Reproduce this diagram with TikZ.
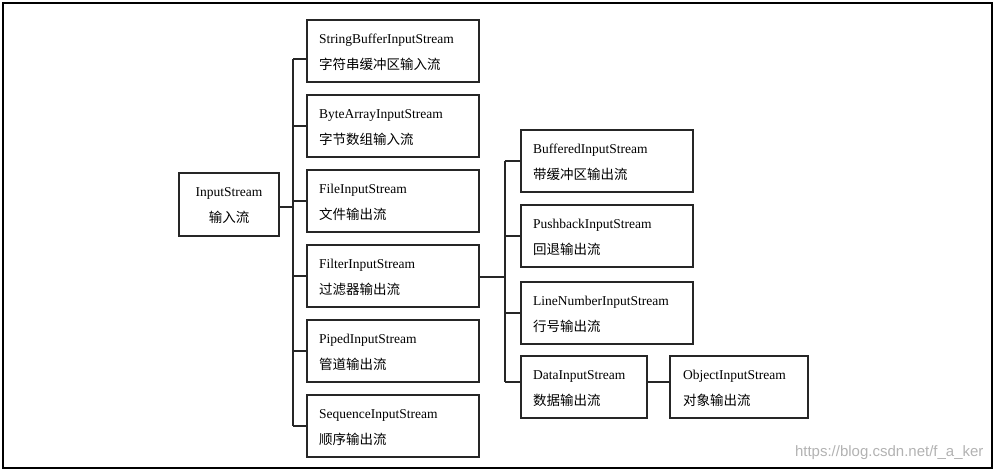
\documentclass[tikz,border=0pt]{standalone}
\usepackage{fontspec}
\setmainfont{Liberation Serif}
\newfontfamily\cjk{Noto Sans CJK SC}
\newfontfamily\wm{Liberation Sans}
\begin{document}
\begin{tikzpicture}[x=1pt,y=-1pt,
  bx/.style={draw,line width=1.2pt,black!85},
  ln/.style={draw,line width=1.1pt,black!85},
  tx/.style={anchor=west,inner sep=0pt,font=\fontsize{13.5}{15}\selectfont}]
\useasboundingbox (0,0) rectangle (996,472);
\draw[line width=1.2pt] (3,3) rectangle (992,468);
% root
\path[bx] (179,173) rectangle (279,236);
\node (root) at (229,204.5) {};
\node[tx,anchor=center] at (229,193) {InputStream};
\node[tx,anchor=center] at (229,217) {\cjk 输入流};
\coordinate (rootR) at (279,207);
% column 1
\foreach \y/\n/\a/\b in {20/c1/StringBufferInputStream/字符串缓冲区输入流,
  95/c2/ByteArrayInputStream/字节数组输入流,
  170/c3/FileInputStream/文件输出流,
  245/c4/FilterInputStream/过滤器输出流,
  320/c5/PipedInputStream/管道输出流,
  395/c6/SequenceInputStream/顺序输出流}{
  \path[bx] (307,\y) rectangle (479,\y+62);
  \node[inner sep=0pt] (\n) at (393,\y+31) {};
  \node[tx] at (319,\y+20) {\a};
  \node[tx] at (319,\y+44) {\cjk \b};
}
\coordinate (t1) at (293,59);
\coordinate (t6) at (293,426);
\draw[ln] (t1) -- (t6);
\draw[ln] (rootR) -- (293,207);
\draw[ln] (t1) -- (307,59);
\foreach \n in {c2,c3,c4,c5,c6}{\draw[ln] (293,0|-\n) -- ++(14,0);}
% column 2
\foreach \y/\n/\a/\b in {130/d1/BufferedInputStream/带缓冲区输出流,
  205/d2/PushbackInputStream/回退输出流,
  282/d3/LineNumberInputStream/行号输出流}{
  \path[bx] (521,\y) rectangle (693,\y+62);
  \node[inner sep=0pt] (\n) at (607,\y+31) {};
  \node[tx] at (533,\y+20) {\a};
  \node[tx] at (533,\y+44) {\cjk \b};
}
\path[bx] (521,356) rectangle (647,418);
\node[inner sep=0pt] (d4) at (584,382) {};
\node[tx] at (533,376) {DataInputStream};
\node[tx] at (533,400) {\cjk 数据输出流};
\path[bx] (670,356) rectangle (808,418);
\node[inner sep=0pt] (ob) at (739,382) {};
\node[tx] at (683,376) {ObjectInputStream};
\node[tx] at (683,400) {\cjk 对象输出流};
\draw[ln] (479,277) -- (505,277);
\draw[ln] (505,161) -- (505,382);
\foreach \n in {d1,d2,d3,d4}{\draw[ln] (505,0|-\n) -- ++(16,0);}
\draw[ln] (647,382) -- (670,382);
\node[anchor=east,text=black!30,font=\wm\fontsize{15}{17}\selectfont] at (987,453) {https://blog.csdn.net/f\_a\_ker};
\end{tikzpicture}
\end{document}
